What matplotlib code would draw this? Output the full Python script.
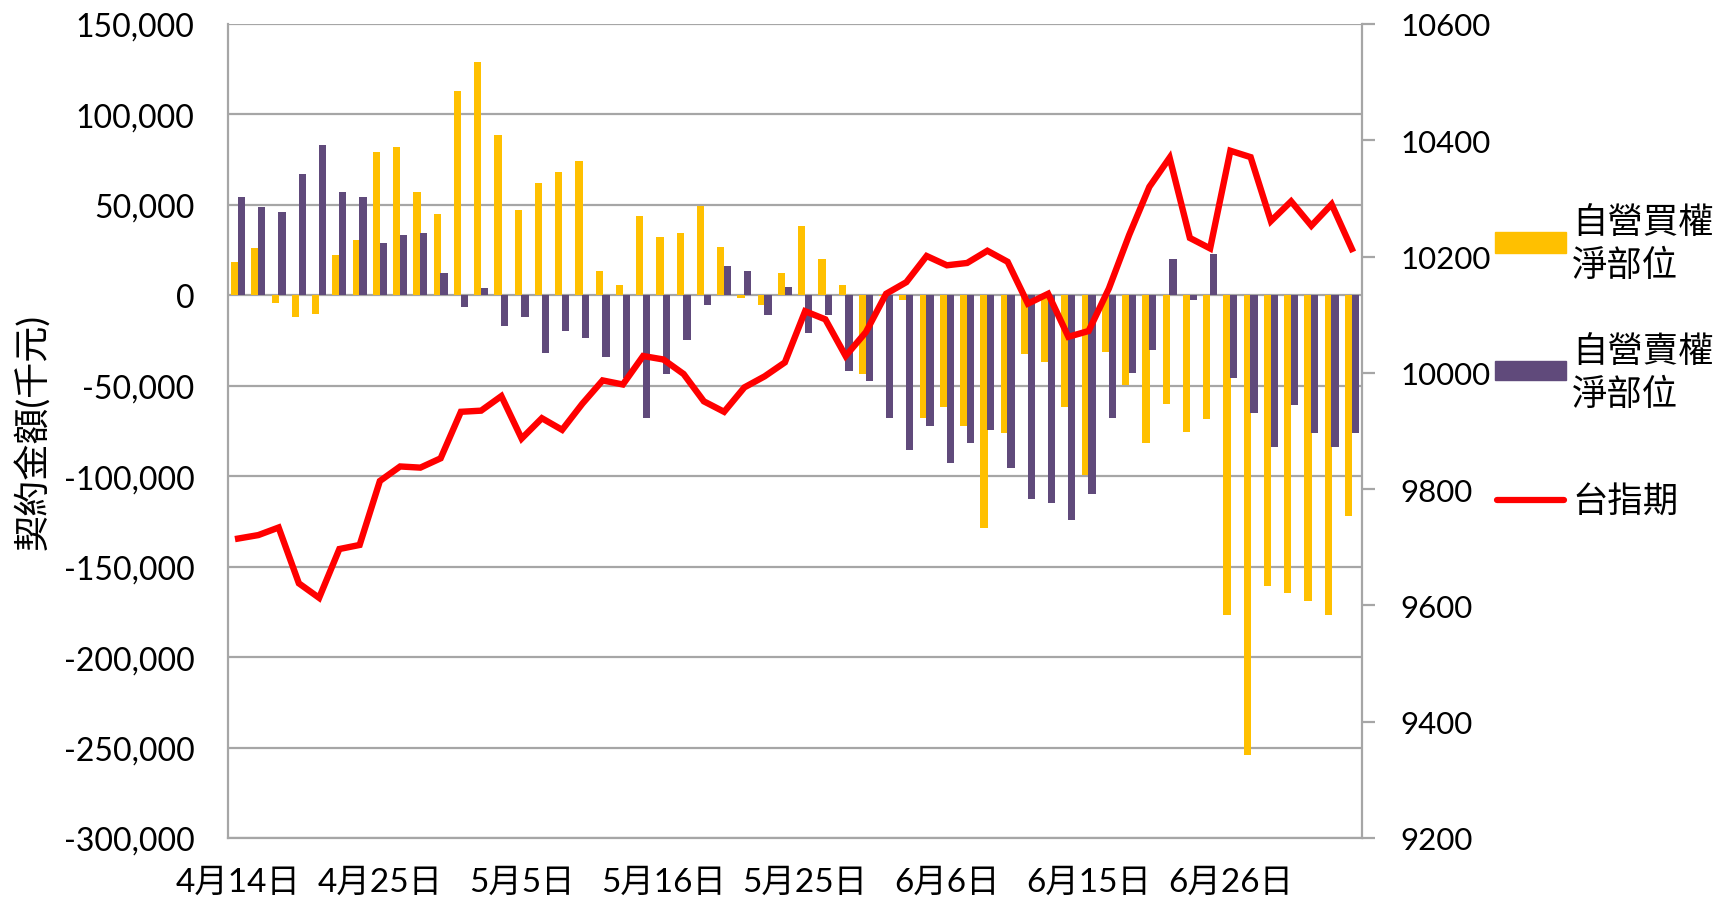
import numpy as np
import matplotlib
matplotlib.use('Agg')
import matplotlib.pyplot as plt
from matplotlib.patches import Rectangle
from matplotlib.lines import Line2D

plt.rcParams['font.family'] = ['Lato', 'Noto Sans CJK TC', 'DejaVu Sans']

# trading days 2017/4/14 .. 2017/7/4, labels every 7 days
tick_labels = ['4月14日', '4月25日', '5月5日', '5月16日', '5月25日', '6月6日', '6月15日', '6月26日']

# 自營買權淨部位 (千元)
call_net = [18200, 25900, -4200, -11950, -10100, 22050, 30500, 79200, 82150, 57350,
            44850, 112700, 129000, 88800, 46900, 62300, 68000, 74450, 13400, 5900,
            44100, 32500, 34400, 49600, 26850, -1500, -5330, 12500, 38250, 20200,
            5900, -43400, -500, -2400, -67650, -61800, -72300, -128800, -76100, -32300,
            -37000, -61800, -99350, -31300, -49700, -81850, -60000, -75400, -68600, -176600,
            -253900, -160600, -164300, -168900, -176600, -122150]

# 自營賣權淨部位 (千元)
put_net = [54400, 48700, 45950, 66900, 83100, 57350, 54400, 28700, 33450, 34400,
           12500, -6450, 3860, -16900, -11950, -32150, -19650, -23500, -34000, -45650,
           -67650, -43750, -24650, -5330, 16350, 13600, -11000, 4800, -20600, -11000,
           -41900, -47400, -67650, -85650, -72250, -92550, -81850, -74300, -95400, -112400,
           -114600, -124200, -109650, -67700, -42900, -30200, 20050, -2400, 22800, -45600,
           -64950, -83900, -60900, -76150, -83900, -76150]

# 台指期
futures = [9715, 9721, 9734, 9638, 9613, 9697, 9704, 9814, 9839, 9837,
           9853, 9933, 9935, 9960, 9887, 9922, 9902, 9947, 9987, 9980,
           10029, 10023, 9998, 9951, 9933, 9975, 9994, 10018, 10106, 10092,
           10029, 10070, 10136, 10156, 10201, 10185, 10189, 10210, 10191, 10119,
           10136, 10062, 10072, 10145, 10237, 10320, 10370, 10232, 10214, 10382,
           10371, 10261, 10295, 10253, 10290, 10213]

x = np.arange(len(call_net))
grid_c = '#a6a6a6'

fig = plt.figure(figsize=(17.17, 9.03), dpi=100)
ax = fig.add_axes([228/1717, 1-839/903, (1362-228)/1717, (839-25)/903])

w = 0.36
ax.bar(x - 0.17, call_net, width=w, color='#FFC000', zorder=2)
ax.bar(x + 0.17, put_net, width=w, color='#604A7B', zorder=3)

ax.set_xlim(-0.5, len(x) - 0.5)
ax.set_ylim(-300000, 150000)
ax.set_yticks(np.arange(-300000, 150001, 50000))
ax.yaxis.set_major_formatter(matplotlib.ticker.FuncFormatter(lambda v, p: f'{int(v):,}'))
ax.grid(axis='y', color=grid_c, linewidth=1.6, zorder=0)
ax.set_axisbelow(True)
ax.set_xticks(x[::7])
ax.set_xticklabels(tick_labels)
ax.tick_params(axis='y', length=0, pad=24, labelsize=23)
ax.tick_params(axis='x', length=0, pad=21, labelsize=24)
for s in ['top', 'right']:
    ax.spines[s].set_visible(False)
for s in ['left', 'bottom']:
    ax.spines[s].set_color(grid_c)
    ax.spines[s].set_linewidth(1.6)
ax.set_ylabel('契約金額(千元)', fontsize=26, labelpad=10)

ax2 = ax.twinx()
ax2.plot(x, futures, color='#FF0000', linewidth=4.6, solid_joinstyle='miter', zorder=4)
ax2.set_ylim(9200, 10600)
ax2.set_yticks(np.arange(9200, 10601, 200))
ax2.tick_params(axis='y', direction='out', length=9.5, width=1.6, color=grid_c, pad=18, labelsize=22.5)
for s in ['top', 'left', 'bottom']:
    ax2.spines[s].set_visible(False)
ax2.spines['right'].set_color(grid_c)
ax2.spines['right'].set_linewidth(1.6)

# legend
H = 903.0
def fy(p):
    return 1 - p / H
fig.add_artist(Rectangle((1495/1717, fy(254)), 71/1717, 21/H, transform=fig.transFigure,
                         color='#FFC000'))
fig.add_artist(Rectangle((1495/1717, fy(381)), 71/1717, 19/H, transform=fig.transFigure,
                         color='#604A7B'))
fig.add_artist(Line2D([1497/1717, 1564/1717], [fy(501), fy(501)], transform=fig.transFigure,
                      color='#FF0000', linewidth=4.5, solid_capstyle='round'))
fig.text(1572/1717, fy(244), '自營買權\n淨部位', fontsize=25.5, va='center', linespacing=1.35)
fig.text(1572/1717, fy(373), '自營賣權\n淨部位', fontsize=25.5, va='center', linespacing=1.35)
fig.text(1572/1717, fy(501), '台指期', fontsize=25.5, va='center')

fig.savefig('out.png', dpi=100)
